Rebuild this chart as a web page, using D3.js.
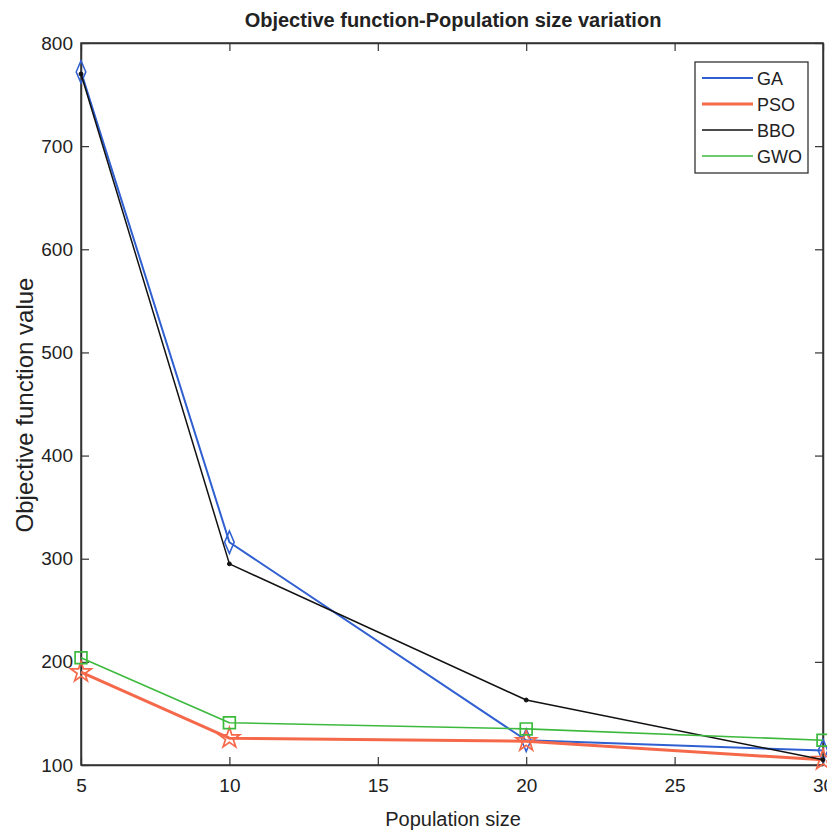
<!DOCTYPE html>
<html>
<head>
<meta charset="utf-8">
<script src="https://cdn.jsdelivr.net/npm/d3@7"></script>
<style>
  body { margin: 0; background: #fff; }
  text { font-family: "Liberation Sans Narrow", "Liberation Sans", Arial, sans-serif; fill: #222; }
</style>
</head>
<body>
<div id="chart"></div>
<script>
// population sizes on the x axis
var popSizes = [5, 10, 20, 30];
var xTicks = [5, 10, 15, 20, 25, 30];
var yTicks = [100, 200, 300, 400, 500, 600, 700, 800];

// objective function values per algorithm
var gaValues  = [772, 316, 124, 114];
var psoValues = [190, 126, 123, 105];
var bboValues = [770, 295, 163, 105];
var gwoValues = [204, 141, 135, 124];

var seriesNames = ["GA", "PSO", "BBO", "GWO"];

var width = 827, height = 833;
var margin = {left: 81, top: 43, right: 4, bottom: 68};

var svg = d3.select("#chart").append("svg")
    .attr("width", width)
    .attr("height", height);

var x = d3.scaleLinear().domain([5, 30]).range([margin.left, width - margin.right]);
var y = d3.scaleLinear().domain([100, 800]).range([height - margin.bottom, margin.top]);

// box
svg.append("rect")
    .attr("x", x(5)).attr("y", y(800))
    .attr("width", x(30) - x(5)).attr("height", y(100) - y(800))
    .attr("fill", "none").attr("stroke", "#333").attr("stroke-width", 1.5);

// axes (ticks point inwards, matlab style)
var xAxis = svg.append("g")
    .attr("transform", "translate(0," + y(100) + ")")
    .call(d3.axisBottom(x).tickValues(xTicks).tickSizeInner(-8).tickSizeOuter(0).tickPadding(14));
var xTop = svg.append("g")
    .attr("transform", "translate(0," + y(800) + ")")
    .call(d3.axisTop(x).tickValues(xTicks).tickSizeInner(-8).tickSizeOuter(0).tickFormat(""));
var yAxis = svg.append("g")
    .attr("transform", "translate(" + x(5) + ",0)")
    .call(d3.axisLeft(y).tickValues(yTicks).tickSizeInner(-8).tickSizeOuter(0).tickPadding(8));
var yRight = svg.append("g")
    .attr("transform", "translate(" + x(30) + ",0)")
    .call(d3.axisRight(y).tickValues(yTicks).tickSizeInner(-8).tickSizeOuter(0).tickFormat(""));

[xAxis, xTop, yAxis, yRight].forEach(function (g) {
    g.select(".domain").attr("stroke", "#333").attr("stroke-width", 1.5);
    g.selectAll(".tick line").attr("stroke", "#333").attr("stroke-width", 1.2);
    g.selectAll(".tick text").style("font-size", "19px").attr("fill", "#222");
});

var series = [
    {name: "GA",  values: gaValues,  color: "#2f5fd0", width: 2,   marker: "diamond"},
    {name: "PSO", values: psoValues, color: "#f5694a", width: 3,   marker: "star"},
    {name: "BBO", values: bboValues, color: "#111111", width: 1.5, marker: "dot"},
    {name: "GWO", values: gwoValues, color: "#3dba3d", width: 1.6, marker: "square"}
];

var line = d3.line()
    .x(function (d, i) { return x(popSizes[i]); })
    .y(function (d) { return y(d); });

var symbols = {
    diamond: d3.symbol().type(d3.symbolDiamond).size(110),
    star: d3.symbol().type(d3.symbolStar).size(130),
    dot: d3.symbol().type(d3.symbolCircle).size(12),
    square: d3.symbol().type(d3.symbolSquare).size(140)
};

var plot = svg.append("g");
series.forEach(function (s) {
    plot.append("path")
        .datum(s.values)
        .attr("d", line)
        .attr("fill", "none")
        .attr("stroke", s.color)
        .attr("stroke-width", s.width)
        .attr("stroke-linejoin", "round");
    plot.selectAll(".m-" + s.name)
        .data(s.values)
        .enter().append("path")
        .attr("transform", function (d, i) {
            var t = "translate(" + x(popSizes[i]) + "," + y(d) + ")";
            if (s.marker === "diamond") t += " scale(0.85,1.15)";
            return t;
        })
        .attr("d", symbols[s.marker]())
        .attr("fill", s.marker === "dot" ? s.color : "none")
        .attr("stroke", s.color)
        .attr("stroke-width", s.marker === "dot" ? 1 : 1.7);
});

// legend
var lg = svg.append("g").attr("transform", "translate(695,62)");
lg.append("rect").attr("width", 113).attr("height", 111)
    .attr("fill", "#fff").attr("stroke", "#333").attr("stroke-width", 1.3);
series.forEach(function (s, i) {
    var yy = 16 + i * 26;
    lg.append("line").attr("x1", 7).attr("x2", 58).attr("y1", yy).attr("y2", yy)
        .attr("stroke", s.color).attr("stroke-width", s.width);
    lg.append("text").attr("x", 62).attr("y", yy + 7)
        .style("font-size", "18px").text(seriesNames[i]);
});

// titles
svg.append("text")
    .attr("x", 453).attr("y", 27)
    .attr("text-anchor", "middle")
    .style("font-size", "20px").style("font-weight", "bold")
    .text("Objective function-Population size variation");

svg.append("text")
    .attr("x", 453).attr("y", 826)
    .attr("text-anchor", "middle")
    .style("font-size", "20px")
    .text("Population size");

svg.append("text")
    .attr("transform", "translate(33,405) rotate(-90)")
    .attr("text-anchor", "middle")
    .style("font-size", "24px")
    .text("Objective function value");
</script>
</body>
</html>
